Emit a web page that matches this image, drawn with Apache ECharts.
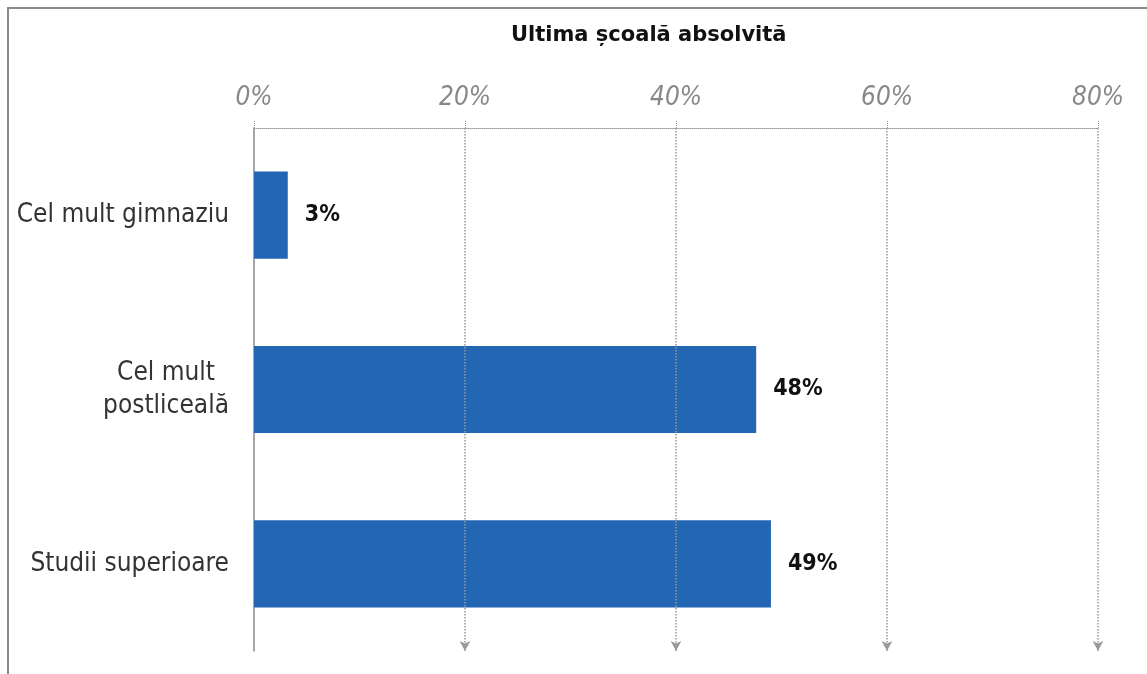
<!DOCTYPE html>
<html>
<head>
<meta charset="utf-8">
<script src="https://cdn.jsdelivr.net/npm/echarts@6/dist/echarts.min.js"></script>
<style>
  body { margin: 0; background: #fff; }
  #main { width: 1147px; height: 674px; }
</style>
</head>
<body>
<div id="main"></div>
<script>
var categories = ['Cel mult gimnaziu', 'Cel mult postliceală', 'Studii superioare'];
var shares = [3.2, 47.6, 49.0];
var gridMarks = [20, 40, 60, 80];

var font = '"DejaVu Sans", Verdana, sans-serif';
var narrow = '"DejaVu Sans Condensed", "DejaVu Sans", sans-serif';

var chart = echarts.init(document.getElementById('main'));

var option = {
  animation: false,
  title: {
    text: 'Ultima școală absolvită',
    left: 506,
    top: 20,
    textStyle: { fontFamily: font, fontWeight: 'bold', fontSize: 21, color: '#111' }
  },
  graphic: [{
    type: 'rect',
    shape: { x: 8, y: 8, width: 1200, height: 700 },
    style: { fill: 'none', stroke: '#8a8a8a', lineWidth: 2 },
    silent: true
  }],
  grid: { left: 254, right: 49, top: 128, bottom: 23 },
  xAxis: {
    type: 'value',
    position: 'top',
    min: 0,
    max: 80,
    interval: 20,
    axisLine: { show: true, lineStyle: { color: '#999', type: 'dotted', width: 1 } },
    axisTick: { show: true, length: 8, lineStyle: { color: '#999', type: 'dotted' } },
    axisLabel: {
      formatter: '{value}%',
      fontFamily: narrow,
      fontStyle: 'italic',
      fontSize: 26,
      color: '#888',
      margin: 17
    },
    splitLine: { show: false }
  },
  yAxis: {
    type: 'category',
    data: categories,
    inverse: true,
    axisLine: { lineStyle: { color: '#8a8a8a', width: 1.5 } },
    axisTick: { length: 10, lineStyle: { color: '#8a8a8a', width: 1.5 } },
    axisLabel: {
      margin: 25,
      fontFamily: narrow,
      fontSize: 26,
      color: '#333',
      formatter: function (v) {
        if (v === 'Cel mult postliceală') return '{c|Cel mult}\n{c|postliceală}';
        return v;
      },
      rich: {
        c: { align: 'center', fontFamily: narrow, fontSize: 26, color: '#333', lineHeight: 33 }
      }
    }
  },
  series: [{
    type: 'bar',
    data: shares,
    barWidth: '50%',
    itemStyle: { color: '#2366b4' },
    label: {
      show: true,
      position: 'right',
      distance: 17,
      fontFamily: narrow,
      fontWeight: 'bold',
      fontSize: 23,
      color: '#111',
      formatter: function (p) { return Math.round(p.value) + '%'; }
    },
    markLine: {
      silent: true,
      symbol: ['none', 'arrow'],
      symbolSize: [8, 10],
      label: { show: false },
      lineStyle: { color: '#999', type: 'dotted', width: 1.5 },
      data: gridMarks.map(function (v) { return { xAxis: v }; })
    }
  }]
};

chart.setOption(option);
</script>
</body>
</html>
